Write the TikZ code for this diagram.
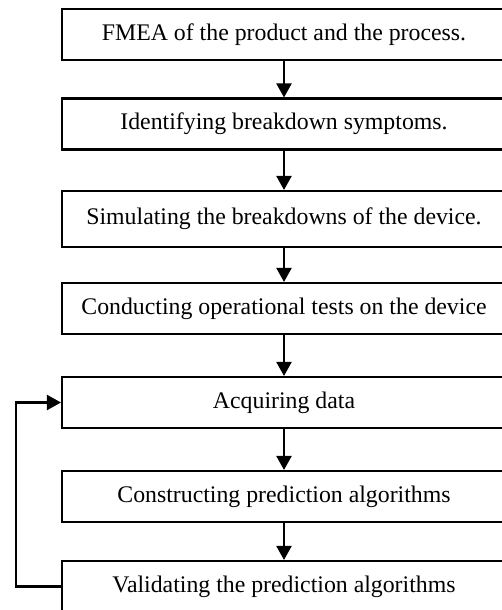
\documentclass[tikz,border=0pt]{standalone}
\usepackage{fontspec}
\setmainfont{Liberation Serif}
\usepackage{tikz}
\usetikzlibrary{arrows.meta,positioning}
\tikzset{
  box/.style={rectangle, draw, line width=1.05pt, minimum height=25.5pt,
              minimum width=222pt, align=center, inner sep=0pt,
              font=\fontsize{11.9}{14}\selectfont},
  arr/.style={-{Triangle[length=7pt,width=7.5pt]}, line width=1.05pt}
}

\begin{document}
\begin{tikzpicture}[x=0.5pt, y=-0.5pt]
  \useasboundingbox (0,0) rectangle (502,610);
  \clip (0,0) rectangle (502,610);
  \node[box] (fmea) at (284,34.5) {FMEA of the product and the process.};
  \node[box] (symp) at (284,124) {Identifying breakdown symptoms.};
  \node[box, minimum height=28pt] (sim) at (284,219) {Simulating the breakdowns of the device.};
  \node[box] (test) at (284,308.5) {Conducting operational tests on the device};
  \node[box] (acq) at (284,402.5) {Acquiring data};
  \node[box] (cons) at (284,496.5) {Constructing prediction algorithms};
  \node[box] (val) at (284,586.5) {Validating the prediction algorithms};
  \draw[arr] (fmea) -- (symp);
  \draw[arr] (symp) -- (sim);
  \draw[arr] (sim) -- (test);
  \draw[arr] (test) -- (acq);
  \draw[arr] (acq) -- (cons);
  \draw[arr] (cons) -- (val);
  % feedback from validation back to data acquisition
  \draw[arr] (val.west) -- ++(-45,0) |- (acq.west);
\end{tikzpicture}
\end{document}
